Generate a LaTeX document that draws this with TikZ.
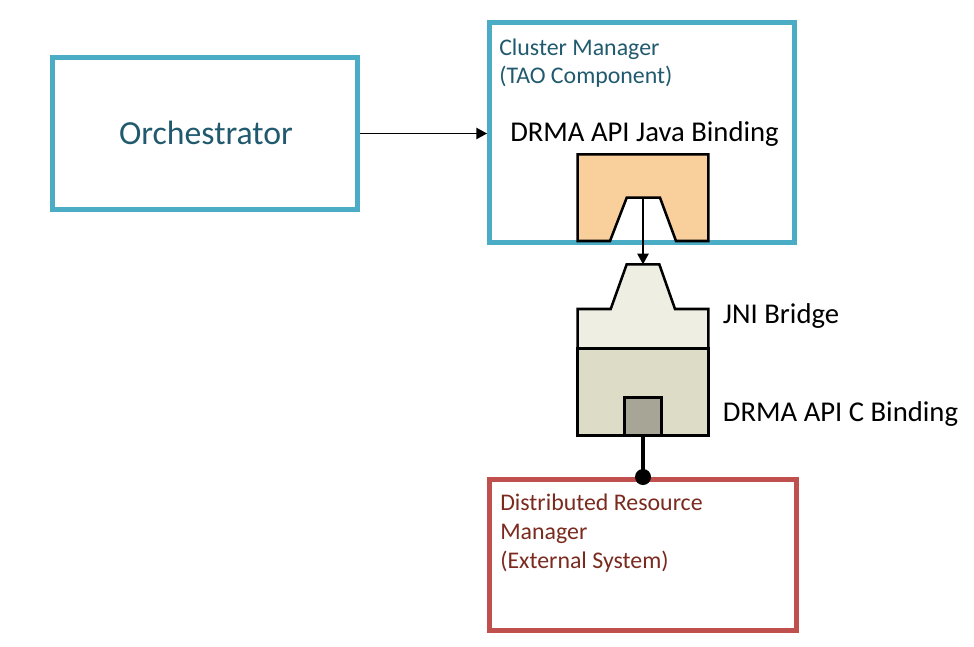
\documentclass[tikz,border=0pt]{standalone}
\usepackage{fontspec}
\setmainfont{Carlito}
\usetikzlibrary{arrows.meta}
\definecolor{boxblue}{HTML}{4BACC6}
\definecolor{boxred}{HTML}{C0504D}
\definecolor{tealtext}{HTML}{215A6E}
\definecolor{redtext}{HTML}{7A2A1E}
\definecolor{orangefill}{HTML}{F9CF9C}
\definecolor{jniupper}{HTML}{EEEEE3}
\definecolor{jnilower}{HTML}{DDDCC7}
\definecolor{sqfill}{HTML}{A6A596}
\tikzset{
  bluebox/.style={draw=boxblue, line width=3.75pt, rectangle, inner sep=0pt},
  redbox/.style={draw=boxred, line width=3.75pt, rectangle, inner sep=0pt},
  partshape/.style={draw=black, line width=1.9pt, line join=miter},
  thinarrow/.style={draw=black, line width=1.1pt, -{Triangle[length=8pt,width=8.5pt]}},
  smalltext/.style={inner sep=0pt, anchor=base west, font=\fontsize{17.9}{21}\selectfont},
  bigtext/.style={inner sep=0pt, font=\fontsize{21.5}{26}\selectfont},
}
\begin{document}
\begin{tikzpicture}[x=0.75pt,y=-0.75pt]
\useasboundingbox (0,0) rectangle (974,646);
% boxes
\node[bluebox, minimum width=228.75pt, minimum height=114pt] (orch) at (205,133.5) {};
\node[bluebox, minimum width=228.75pt, minimum height=165pt] (cm) at (642,132.5) {};
\node[redbox, minimum width=230.25pt, minimum height=113.25pt] (drm) at (643,555) {};
% texts
\node[inner sep=0pt, anchor=base, text=tealtext, font=\fontsize{25.3}{30}\selectfont] (orchtext) at (206,144) {Orchestrator};
\node[smalltext, text=tealtext] (cm1) at (499,55) {Cluster Manager};
\node[smalltext, text=tealtext] (cm2) at (499,83) {(TAO Component)};
\node[bigtext, anchor=base] (java) at (644.5,141) {DRMA API Java Binding};
\node[bigtext, anchor=base west] (jni) at (722.7,323.3) {JNI Bridge};
\node[bigtext, anchor=base west] (cbind) at (722.7,421.7) {DRMA API C Binding};
\node[smalltext, text=redtext] (drm1) at (500,510.7) {Distributed Resource};
\node[smalltext, text=redtext] (drm2) at (500,539.3) {Manager};
\node[smalltext, text=redtext] (drm3) at (500,568.3) {(External System)};
% orchestrator -> cluster manager
\draw[thinarrow] (orch.east) -- (orch.east -| cm.west);
% Java binding part
\draw[partshape, fill=orangefill] (577.7,154.3) -- (708.3,154.3) -- (708.3,241) -- (676,241) -- (660,197.7) -- (626.7,197.7) -- (610,241) -- (577.7,241) -- cycle;
\coordinate (notch) at (643,197.7);
% JNI bridge
\draw[partshape, fill=jniupper] (577.7,309) -- (610.7,309) -- (626.7,264.3) -- (659.3,264.3) -- (675,309) -- (708.3,309) -- (708.3,348.3) -- (577.7,348.3) -- cycle;
\coordinate (jnitop) at (643,264.3);
\draw[partshape, fill=jnilower] (577.7,348.3) rectangle (708.3,435.7);
\node[partshape, fill=sqfill, rectangle, inner sep=0pt, minimum width=28pt, minimum height=28.5pt] (sq) at (643,416.7) {};
% connectors
\draw[thinarrow] (notch) -- (jnitop);
\draw[line width=3pt] (sq.south) -- (sq.south |- drm.north);
\fill (sq.south |- drm.north) circle[radius=8];
\end{tikzpicture}
\end{document}
